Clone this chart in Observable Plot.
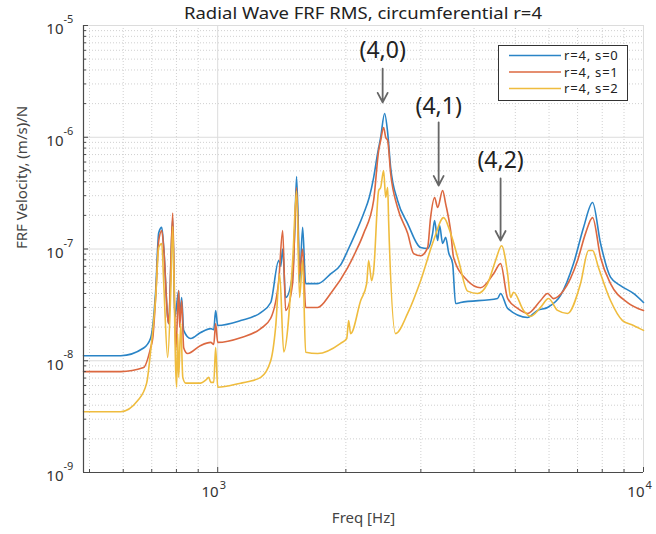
<!DOCTYPE html>
<html><head><meta charset="utf-8">
<script src="https://cdn.jsdelivr.net/npm/d3@7"></script>
<script src="https://cdn.jsdelivr.net/npm/@observablehq/plot@0.6"></script>
<style>body{margin:0;background:#fff;} #chart{width:656px;height:534px;}</style>
</head><body><div id="chart"></div>
<script>
// ---- data ----
const seriesNames = ["r=4, s=0", "r=4, s=1", "r=4, s=2"];
const seriesColors = ["#2a84c6", "#dc6840", "#efbc3e"];

const freqS0 = [484,592,670,696,715,727,739,747,763,767,784,793,810,814,823,832,864,912,963,979,989,1000,1132,1262,1332,1391,1406,1421,1444,1500,1517,1532,1549,1557,1583,1609,1717,1842,1944,2020,2110,2202,2270,2324,2375,2414,2466,2507,2548,2645,2793,2996,3112,3197,3232,3285,3320,3375,3430,3486,3562,3620,3719,4542,4617,4796,5342,5639,5952,6387,6850,7231,7593,7928,8366,8831,9473,10000];
const valS0 = [1.11e-8,1.11e-8,1.3e-8,1.6e-8,4.2e-8,1.4e-7,1.56e-7,1.03e-7,2.44e-8,2.15e-8,1.9e-7,2.44e-8,4.25e-8,2.44e-8,3.68e-8,1.87e-8,1.58e-8,1.79e-8,1.94e-8,1.9e-8,2.82e-8,2.07e-8,2.29e-8,2.7e-8,3.32e-8,7.9e-8,7e-8,1.0e-7,3.68e-8,6e-8,1.5e-7,4.45e-7,1.2e-7,5e-8,1.56e-7,4.9e-8,4.9e-8,6.0e-8,7.2e-8,9.7e-8,1.4e-7,2.08e-7,2.9e-7,4.36e-7,7.2e-7,9.95e-7,1.63e-6,1.1e-6,5.36e-7,2.72e-7,1.69e-7,1.03e-7,1.01e-7,1.38e-7,1.8e-7,1.19e-7,1.62e-7,1.12e-7,1.27e-7,9.3e-8,7.4e-8,3.25e-8,3.32e-8,3.61e-8,4.0e-8,2.94e-8,2.44e-8,2.82e-8,3.0e-8,3.84e-8,7.4e-8,1.56e-7,2.61e-7,1.12e-7,5.6e-8,4.7e-8,4.0e-8,3.32e-8];

const freqS1 = [484,592,670,696,704,715,727,739,747,763,767,784,797,810,814,823,832,850,912,963,979,989,1000,1132,1262,1332,1391,1421,1444,1500,1532,1557,1583,1609,1717,1842,2020,2110,2202,2324,2388,2414,2453,2480,2507,2548,2645,2793,2885,2996,3112,3162,3232,3285,3375,3430,3524,3581,3863,4144,4445,4617,4796,5061,5342,5732,5952,6149,6491,7000,7310,7593,7928,8366,9172,10000];
const valS1 = [8.0e-9,8.0e-9,8.7e-9,1.31e-8,1.6e-8,3.68e-8,1.19e-7,1.46e-7,1.0e-7,2.44e-8,2.15e-8,2.1e-7,1.23e-8,4.25e-8,2.0e-8,3.46e-8,1.31e-8,1.16e-8,1.37e-8,1.46e-8,1.4e-8,2.15e-8,1.46e-8,1.61e-8,1.94e-8,2.4e-8,5.2e-8,1.46e-7,2.82e-8,5e-8,3.55e-7,6e-8,1.0e-7,3.0e-8,3.0e-8,4.0e-8,6.8e-8,9.5e-8,1.38e-7,2.72e-7,7.6e-7,9.35e-7,1.22e-6,1.0e-6,9.35e-7,4.74e-7,2.35e-7,1.38e-7,9.1e-8,8.7e-8,1.03e-7,1.91e-7,2.89e-7,2.35e-7,3.34e-7,2.55e-7,1.46e-7,8.4e-8,5.2e-8,4.5e-8,6.0e-8,7.4e-8,3.61e-8,2.94e-8,2.65e-8,3.46e-8,4.0e-8,3.6e-8,4.25e-8,7.9e-8,1.38e-7,1.91e-7,8.4e-8,4.9e-8,3.32e-8,2.82e-8];

const freqS2 = [484,592,649,681,696,715,727,739,747,763,776,784,797,801,805,810,819,828,841,912,937,953,963,979,989,1000,1132,1176,1262,1332,1368,1398,1429,1500,1532,1557,1583,1609,1717,1944,2009,2030,2052,2167,2238,2262,2299,2324,2388,2414,2453,2480,2507,2520,2617,2793,2996,3214,3393,3524,3679,3863,4077,4303,4494,4642,4796,4874,4953,5228,5429,5732,5984,6284,6631,7113,7428,7593,7842,8366,8927,9473,10000];
const valS2 = [3.5e-9,3.5e-9,4.4e-9,6.3e-9,1.23e-8,3.68e-8,1.03e-7,1.12e-7,4.9e-8,1.07e-8,4.25e-8,1.6e-7,8.2e-9,5.8e-9,1.75e-8,7.1e-9,2.15e-8,7.1e-9,6.3e-9,6.3e-9,6.7e-9,7.1e-9,6.4e-9,6.4e-9,1.31e-8,5.8e-9,6.3e-9,6.5e-9,7.1e-9,1.0e-8,2.0e-8,6e-8,1.2e-8,7.9e-8,3.3e-7,3.68e-8,7.9e-8,1.19e-8,1.16e-8,1.43e-8,1.58e-8,2.29e-8,1.75e-8,3.46e-8,4.9e-8,7.9e-8,5.2e-8,6.4e-8,3.34e-7,3.55e-7,5.04e-7,2.89e-7,3.55e-7,1.8e-7,1.75e-8,2.65e-8,5.2e-8,1.19e-7,1.91e-7,1.38e-7,7.9e-8,4.2e-8,4.0e-8,4.9e-8,7.9e-8,1.07e-7,6.0e-8,3.68e-8,4.1e-8,2.82e-8,2.5e-8,3.0e-8,3.61e-8,2.82e-8,2.65e-8,4.9e-8,9.7e-8,9.7e-8,6.8e-8,3.46e-8,2.29e-8,2.07e-8,1.87e-8];

// annotations
const annotLabels = ["(4,0)", "(4,1)", "(4,2)"];
const annotFreq = [2440, 3303, 4617];
const annotTextV = [5.97e-6, 1.88e-6, 6.2e-7];
const arrowFromV = [4.1e-6, 1.36e-6, 4.28e-7];
const arrowToV = [2.05e-6, 3.7e-7, 1.19e-7];

// axes
const xDomain = [484, 10000];
const yDomain = [1e-9, 1e-5];
const xMajor = [1000, 10000];
const xTickExp = ["3", "4"];
const xMinor = [500,600,700,800,900,2000,3000,4000,5000,6000,7000,8000,9000];
const yMajor = [1e-9, 1e-8, 1e-7, 1e-6, 1e-5];
const yTickExp = ["-9", "-8", "-7", "-6", "-5"];
const yMinor = [-9,-8,-7,-6].flatMap(e => [2,3,4,5,6,7,8,9].map(k => k * Math.pow(10, e)));

const titleText = "Radial Wave FRF RMS, circumferential r=4";
const xLabel = "Freq [Hz]";
const yLabel = "FRF Velocity, (m/s)/N";

// ---- build table ----
const rows = [
  ...freqS0.map((f, i) => ({f, v: valS0[i], series: seriesNames[0]})),
  ...freqS1.map((f, i) => ({f, v: valS1[i], series: seriesNames[1]})),
  ...freqS2.map((f, i) => ({f, v: valS2[i], series: seriesNames[2]}))
];
const annots = annotLabels.map((t, i) => ({t, f: annotFreq[i], tv: annotTextV[i], a1: arrowFromV[i], a2: arrowToV[i]}));

const W = 656, H = 534, mL = 83, mR = 13, mT = 25, mB = 62;
const plotW = W - mL - mR, plotH = H - mT - mB;
const font = "'Noto Sans', 'Open Sans', sans-serif";

const chart = Plot.plot({
  width: W, height: H,
  marginLeft: mL, marginRight: mR, marginTop: mT, marginBottom: mB,
  x: {type: "log", domain: xDomain, axis: null},
  y: {type: "log", domain: yDomain, axis: null},
  color: {domain: seriesNames, range: seriesColors},
  style: {fontFamily: font, background: "#fff", overflow: "visible"},
  marks: [
    Plot.ruleX(xMinor, {stroke: "#c4c4c4", strokeDasharray: "1,2", strokeWidth: 0.8}),
    Plot.ruleY(yMinor, {stroke: "#c4c4c4", strokeDasharray: "1,2", strokeWidth: 0.8}),
    Plot.ruleX(xMajor, {stroke: "#dcdcdc", strokeWidth: 1}),
    Plot.ruleY(yMajor, {stroke: "#dcdcdc", strokeWidth: 1}),
    Plot.line(rows, {x: "f", y: "v", z: "series", stroke: "series", strokeWidth: 1.6, strokeLinejoin: "round", curve: "monotone-x"}),
    // axis lines
    Plot.ruleX([xDomain[0]], {stroke: "#4a4a4a", strokeWidth: 1.2}),
    Plot.ruleY([yDomain[0]], {stroke: "#4a4a4a", strokeWidth: 1.2}),
    // inward ticks
    Plot.ruleY(yMajor, {insetRight: plotW - 5, stroke: "#4a4a4a"}),
    Plot.ruleY(yMinor, {insetRight: plotW - 3, stroke: "#4a4a4a"}),
    Plot.ruleX(xMajor, {insetTop: plotH - 5, stroke: "#4a4a4a"}),
    Plot.ruleX(xMinor, {insetTop: plotH - 3, stroke: "#4a4a4a"}),
    // y tick labels
    Plot.text(yMajor, {y: d => d, frameAnchor: "left", dx: -20, dy: 4, text: () => "10", textAnchor: "end", fontSize: 15, fill: "#333"}),
    Plot.text(yMajor, {y: d => d, frameAnchor: "left", dx: -20, dy: -6, text: (d, i) => yTickExp[i], textAnchor: "start", fontSize: 11, fill: "#333"}),
    // x tick labels
    Plot.text(xMajor, {x: d => d, frameAnchor: "bottom", dx: 1, dy: 24, text: () => "10", textAnchor: "end", fontSize: 15, fill: "#333"}),
    Plot.text(xMajor, {x: d => d, frameAnchor: "bottom", dx: 2, dy: 16, text: (d, i) => xTickExp[i], textAnchor: "start", fontSize: 11, fill: "#333"}),
    // axis labels
    Plot.text([xLabel], {frameAnchor: "bottom", dy: 50, text: d => d, fontSize: 15, fill: "#444"}),
    Plot.text([yLabel], {frameAnchor: "left", dx: -61, rotate: -90, text: d => d, fontSize: 15, fill: "#444"}),
    // annotations
    Plot.arrow(annots, {x1: "f", x2: "f", y1: "a1", y2: "a2", stroke: "#666", strokeWidth: 1.8, headLength: 9, headAngle: 55}),
    Plot.text(annots, {x: "f", y: "tv", text: "t", fontSize: 23, fill: "#222", letterSpacing: 2})
  ]
});
document.getElementById("chart").appendChild(chart);

// title & legend (layout only)
const svg = d3.select(chart);
svg.append("text").attr("x", mL + plotW / 2).attr("y", 19).attr("text-anchor", "middle")
  .attr("font-family", font).attr("font-size", 17).attr("fill", "#222")
  .attr("textLength", 358).attr("lengthAdjust", "spacingAndGlyphs").text(titleText);

const lg = svg.append("g").attr("text-anchor", "start");
lg.append("rect").attr("x", 498.5).attr("y", 45.5).attr("width", 129).attr("height", 55)
  .attr("fill", "#fff").attr("stroke", "#333").attr("stroke-width", 1);
seriesNames.forEach((name, i) => {
  const yy = 55.5 + i * 16.5;
  lg.append("line").attr("x1", 509).attr("x2", 561).attr("y1", yy).attr("y2", yy)
    .attr("stroke", seriesColors[i]).attr("stroke-width", 1.6);
  lg.append("text").attr("x", 564).attr("y", yy).attr("dy", "0.35em").attr("text-anchor", "start")
    .attr("font-family", font).attr("font-size", 13).attr("letter-spacing", 0.8).attr("fill", "#222").text(name);
});
</script>
</body></html>
